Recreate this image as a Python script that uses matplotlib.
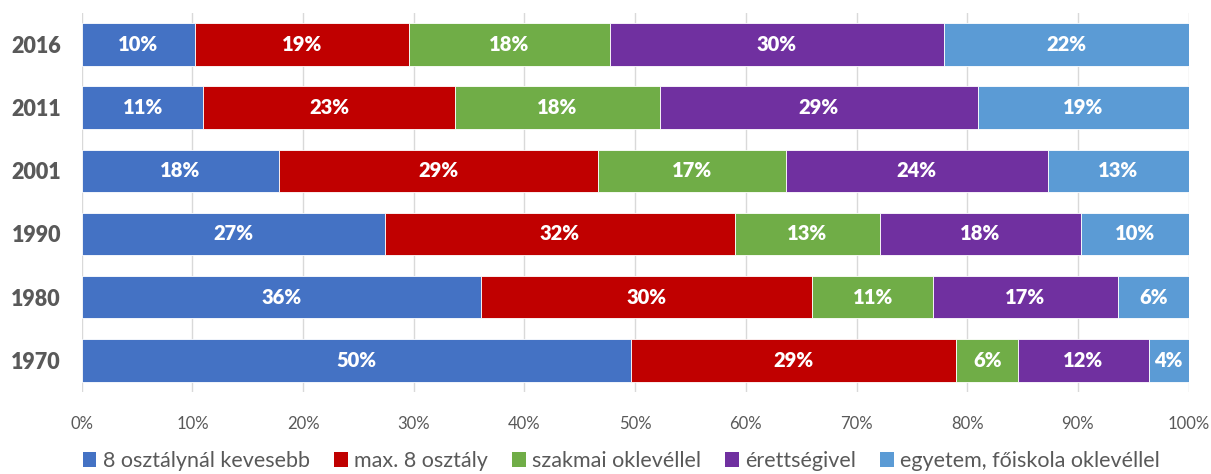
import matplotlib.pyplot as plt
from matplotlib.patches import Patch

# data (percent), bottom row first so 1970 is at the bottom
years = ['1970', '1980', '1990', '2001', '2011', '2016']
below_8 = [49.6, 36.1, 27.4, 17.8, 11.0, 10.2]
max_8 = [29.4, 29.9, 31.6, 28.8, 22.7, 19.4]
vocational = [5.6, 10.9, 13.1, 17.0, 18.5, 18.1]
matura = [11.8, 16.7, 18.2, 23.7, 28.8, 30.2]
university = [3.6, 6.4, 9.7, 12.7, 19.0, 22.1]

series_names = ['8 osztálynál kevesebb', 'max. 8 osztály', 'szakmai oklevéllel',
                'érettségivel', 'egyetem, főiskola oklevéllel']
series_colors = ['#4472C4', '#C00000', '#70AD47', '#7030A0', '#5B9BD5']
xtick_vals = [0, 10, 20, 30, 40, 50, 60, 70, 80, 90, 100]

plt.rcParams['font.family'] = ['Lato', 'DejaVu Sans']

fig = plt.figure(figsize=(12.11, 4.74), dpi=100)
ax = fig.add_axes([0.0675, 0.173, 0.914, 0.80])

all_series = [below_8, max_8, vocational, matura, university]
left = [0.0] * len(years)
for vals, col in zip(all_series, series_colors):
    bars = ax.barh(years, vals, left=left, height=0.67, color=col,
                   edgecolor='white', linewidth=0.6, zorder=3)
    for y, (v, l) in enumerate(zip(vals, left)):
        ax.text(l + v / 2, y, f'{round(v):d}%', ha='center', va='center',
                color='white', fontsize=14.5, fontweight='heavy', zorder=4)
    left = [a + b for a, b in zip(left, vals)]

ax.set_xlim(0, 100)
ax.set_ylim(-0.5, 5.5)
ax.set_xticks(xtick_vals)
ax.set_xticklabels([f'{v}%' for v in xtick_vals], color='#595959', fontsize=12)
ax.tick_params(axis='x', length=0, pad=17)
ax.tick_params(axis='y', length=0, pad=15, labelsize=15.5, labelcolor='#595959')
for lab in ax.get_yticklabels():
    lab.set_fontweight('heavy')

ax.grid(axis='x', color='#d9d9d9', linewidth=1, zorder=0)
ax.set_axisbelow(True)
for s in ax.spines.values():
    s.set_visible(False)

handles = [Patch(facecolor=c, label=n) for n, c in zip(series_names, series_colors)]
fig.legend(handles=handles, loc='center', bbox_to_anchor=(0.513, 0.027), ncol=5,
           frameon=False, fontsize=15.5, labelcolor='#595959', handlelength=0.65,
           handleheight=0.65, handletextpad=0.3, columnspacing=1.1)

fig.savefig('out.png', dpi=100)
